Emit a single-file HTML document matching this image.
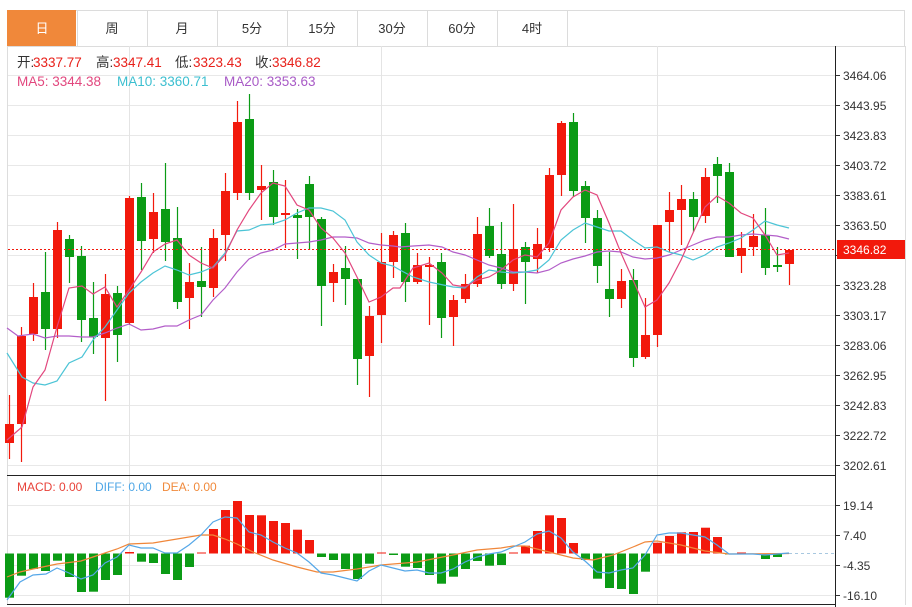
<!DOCTYPE html>
<html><head><meta charset="utf-8">
<style>
html,body{margin:0;padding:0;background:#fff;}
body{width:912px;height:607px;overflow:hidden;font-family:"Liberation Sans","Noto Sans CJK SC",sans-serif;}
svg{display:block}
</style></head>
<body>
<svg id="s" width="912" height="607" xmlns="http://www.w3.org/2000/svg" font-family="Liberation Sans, Noto Sans CJK SC, sans-serif">
</svg>
<script>
var s=document.getElementById('s');var h='';
var tabs=['日','周','月','5分','15分','30分','60分','4时'];
h+='<rect x="7.5" y="10.5" width="897" height="36" fill="#fff" stroke="#dcdcdc"/>';
for(var i=0;i<tabs.length;i++){var x=7+i*70;
 if(i==0)h+='<rect x="7" y="10" width="69" height="36" fill="#f0883a"/>';
 h+='<line x1="'+(x+70.5)+'" y1="10" x2="'+(x+70.5)+'" y2="46" stroke="#dcdcdc"/>';
 h+='<text x="'+(x+35)+'" y="33" text-anchor="middle" font-size="13" fill="'+(i==0?'#fff':'#333')+'">'+tabs[i]+'</text>';}
h+='<line x1="7.5" y1="46" x2="7.5" y2="605" stroke="#ddd"/>';
h+='<line x1="905.5" y1="46" x2="905.5" y2="605" stroke="#ddd"/>';
var ticks=['3464.06','3443.95','3423.83','3403.72','3383.61','3363.50','3343.39','3323.28','3303.17','3283.06','3262.95','3242.83','3222.72','3202.61'];
for(var i=0;i<14;i++){var y=75+30*i;h+='<line x1="8" y1="'+(y+.5)+'" x2="836" y2="'+(y+.5)+'" stroke="#e8e8e8"/>';
 h+='<line x1="836" y1="'+(y+.5)+'" x2="840" y2="'+(y+.5)+'" stroke="#333"/>';
 if(i!=6)h+='<text x="843" y="'+(y+5)+'" font-size="12" fill="#333">'+ticks[i]+'</text>';}
[505,535,565,595].forEach(function(y){h+='<line x1="8" y1="'+(y+.5)+'" x2="836" y2="'+(y+.5)+'" stroke="#e8e8e8"/><line x1="836" y1="'+(y+.5)+'" x2="840" y2="'+(y+.5)+'" stroke="#333"/>';});
var ml=['19.14','7.40','-4.35','-16.10'];[505,535,565,595].forEach(function(y,k){h+='<text x="843" y="'+(y+5)+'" font-size="12" fill="#333">'+ml[k]+'</text>';});
[129.5,381.5,657.5].forEach(function(x){h+='<line x1="'+x+'" y1="46" x2="'+x+'" y2="605" stroke="#e4e4e4"/>';});
h+='<line x1="835.5" y1="46" x2="835.5" y2="607" stroke="#222"/>';
h+='<line x1="7" y1="475.5" x2="836" y2="475.5" stroke="#222"/>';
h+='<line x1="7" y1="604.5" x2="836" y2="604.5" stroke="#222"/>';
var C=[['r',424,443,395,459],['r',336,424,327,462],['r',297,334,283,341],['g',292,329,252,350],['r',230,329,222,338],['g',239,257,235,283],['g',256,320,246,342],['g',318,337,282,354],['r',294,338,274,401],['g',293,335,286,362],['r',198,323,196,325],['g',197,241,183,270],['r',212,239,193,253],['g',209,242,163,261],['g',238,302,207,309],['r',282,298,263,329],['g',281,287,247,317],['r',238,288,229,297],['r',191,235,173,261],['r',122,193,101,200],['g',119,193,94,200],['r',186,190,165,220],['g',182,217,170,225],['r',213,215,180,248],['g',215,218,209,259],['g',184,217,176,250],['g',219,286,217,326],['r',272,283,264,302],['g',268,279,246,305],['g',279,359,279,385],['r',316,356,306,397],['r',262,315,233,343],['r',235,262,231,278],['g',233,282,223,302],['r',265,282,253,284],['r',265,267,257,325],['g',262,318,253,338],['r',300,317,295,346],['r',284,299,274,303],['r',234,284,217,287],['g',226,256,208,258],['g',254,284,222,289],['r',249,284,204,291],['g',247,262,242,304],['r',244,259,228,273],['r',175,248,168,252],['r',123,175,121,196],['g',122,191,113,197],['g',186,218,181,243],['g',218,266,210,283],['g',289,299,252,317],['r',281,299,269,308],['g',280,358,269,367],['r',335,357,298,359],['r',225,335,225,347],['r',210,222,192,252],['r',199,210,185,245],['g',199,217,192,232],['r',177,216,168,223],['g',164,176,157,203],['g',172,257,163,257],['r',248,256,232,273],['r',236,247,214,256],['g',235,268,208,275],['g',265,267,247,272],['r',250,264,250,285]];
var RED='#f2190c',GRN='#0b9b15';
C.forEach(function(c,i){var x=9.5+12*i,col=c[0]=='r'?RED:GRN;
 h+='<line x1="'+x+'" y1="'+c[3]+'" x2="'+x+'" y2="'+c[4]+'" stroke="'+col+'" stroke-width="1.2"/>';
 var hh=Math.max(2,c[2]-c[1]);h+='<rect x="'+(x-4.5)+'" y="'+c[1]+'" width="9" height="'+hh+'" fill="'+col+'"/>';});
function pl(p,col){return '<polyline fill="none" stroke="'+col+'" stroke-width="1.2" points="'+p.map(function(a){return a.join(',')}).join(' ')+'"/>';}
var ma5=[[7,440],[22,427],[33,387],[45,370],[57,327],[69,288],[82,286],[93,294],[105,287],[117,307],[129,290],[141,272],[153,252],[165,244],[177,240],[189,255],[201,263],[213,268],[225,255],[237,230],[249,210],[261,193],[273,183],[285,186],[297,205],[309,210],[321,228],[333,238],[345,253],[357,277],[369,302],[381,297],[393,288],[400,288],[413,268],[429,263],[442,273],[453,285],[465,287],[477,280],[489,277],[501,270],[513,260],[525,255],[537,257],[549,243],[561,210],[573,197],[585,190],[597,195],[609,223],[621,253],[633,280],[645,307],[657,300],[669,283],[681,260],[693,233],[705,207],[717,196],[729,203],[741,213],[753,218],[765,235],[777,255],[789,253]];
var ma10=[[7,353],[22,377],[33,383],[45,385],[57,381],[69,363],[82,357],[93,340],[105,327],[117,310],[129,293],[141,282],[153,273],[165,266],[177,270],[189,275],[201,272],[213,267],[225,253],[237,231],[249,230],[261,225],[273,224],[285,220],[297,213],[309,208],[321,208],[333,211],[345,220],[357,242],[369,255],[381,263],[393,266],[400,270],[413,277],[429,282],[453,287],[465,288],[477,277],[489,270],[501,272],[513,273],[525,272],[537,270],[549,260],[561,240],[573,230],[585,223],[597,227],[609,231],[621,231],[633,240],[645,248],[657,247],[669,252],[681,255],[693,260],[705,255],[717,247],[729,243],[741,238],[753,230],[765,221],[777,225],[789,228]];
var ma20=[[7,328],[18,336],[33,334],[45,338],[57,336],[69,336],[82,337],[93,337],[105,333],[117,328],[129,324],[141,330],[153,329],[165,326],[177,326],[189,320],[201,315],[213,300],[225,288],[237,272],[249,259],[261,253],[273,250],[285,244],[297,243],[309,242],[321,240],[333,237],[345,237],[357,238],[369,243],[381,245],[393,246],[400,247],[413,246],[429,245],[442,247],[453,252],[465,255],[477,260],[489,265],[501,268],[513,272],[525,272],[537,273],[549,270],[561,263],[573,259],[585,256],[597,252],[609,251],[621,252],[633,257],[645,259],[657,258],[669,255],[681,250],[693,245],[705,240],[717,237],[729,237],[741,235],[753,234],[765,235],[777,236],[789,239]];
h+=pl(ma20,'#b35ec9')+pl(ma10,'#4cc4d6')+pl(ma5,'#e2477e');
h+='<line x1="8" y1="249.5" x2="836" y2="249.5" stroke="#f2190c" stroke-dasharray="2,2"/>';
h+='<rect x="837" y="240" width="68" height="19" fill="#f2190c"/><text x="843" y="254" font-size="12" fill="#fff">3346.82</text>';
var fs='font-size="13.5"';
h+='<text y="67" '+fs+' fill="#333"><tspan x="17">开:</tspan><tspan x="96">高:</tspan><tspan x="175">低:</tspan><tspan x="255">收:</tspan></text>';
h+='<text y="67" '+fs+' fill="#e8201a" textLength="0"><tspan x="33">3337.77</tspan><tspan x="113">3347.41</tspan><tspan x="193">3323.43</tspan><tspan x="272">3346.82</tspan></text>';
h+='<text y="86" '+fs+'><tspan x="17" fill="#e2477e">MA5: 3344.38</tspan><tspan x="117" fill="#3cbfd0">MA10: 3360.71</tspan><tspan x="224" fill="#a85ac6">MA20: 3353.63</tspan></text>';
h+='<text y="491" font-size="12"><tspan x="17" fill="#e8433a">MACD: 0.00</tspan><tspan x="95" fill="#4ea6e6">DIFF: 0.00</tspan><tspan x="162" fill="#f08a3c">DEA: 0.00</tspan></text>';
var M=[597.7,575.7,569,571,560.7,577,592,591.7,580,575,552,561.7,563,574,580,567,552.5,529,510,501,515,515.3,521,523,529.7,540,557,560,569,579,563.7,552.5,555,566.7,568,575,583.7,576.7,569,561,565.7,565,552.5,545.7,531,515.3,518,543,560,578.7,588,589,594,571.7,542.7,536,532.3,532,527.7,537,554.5,552.5,554.5,559,557,553.5];
var Z=553.5;
M.forEach(function(v,i){var x=9.5+12*i;if(Math.abs(v-Z)<0.3)return;var t=Math.min(v,Z),hh=Math.abs(v-Z);
 h+='<rect x="'+(x-4.5)+'" y="'+t+'" width="9" height="'+hh+'" fill="'+(v<Z?RED:GRN)+'"/>';});
h+='<line x1="789" y1="553.5" x2="836" y2="553.5" stroke="#a8c8e0" stroke-dasharray="3,3"/>';
var diff=[[7,600],[20,582],[33,575],[46,574],[57,568],[69,573],[81,579],[93,575],[105,563],[117,557],[129,545],[141,548],[153,548],[165,553],[177,553],[189,545],[201,535],[213,522],[225,517],[237,518],[249,532],[261,535],[273,542],[285,548],[297,553],[309,562],[321,573],[333,575],[345,578],[357,581],[369,571],[381,565],[393,568],[405,571],[417,570],[429,573],[441,573],[453,569],[465,562],[477,557],[489,554],[501,552],[513,547],[525,542],[537,534],[549,531],[561,538],[573,552],[585,561],[597,572],[609,573],[621,570],[633,568],[645,555],[657,535],[669,533],[681,533],[693,535],[705,537],[717,545],[729,554],[741,554],[753,554],[765,555],[777,554],[789,553]];
var dea=[[7,577],[20,572],[33,569],[57,564],[81,561],[93,557],[117,549],[129,544],[153,543],[177,539],[201,535],[213,535],[225,539],[237,544],[253,552],[273,560],[297,567],[317,572],[333,572],[357,569],[381,565],[417,562],[453,555],[477,550],[501,548],[513,546],[525,546],[549,552],[573,558],[593,560],[613,555],[633,547],[645,542],[657,541],[681,545],[705,551],[729,554],[789,553.5]];
h+=pl(dea,'#f0873a')+pl(diff,'#55a7e8');
s.innerHTML=h;
</script>
</body></html>
